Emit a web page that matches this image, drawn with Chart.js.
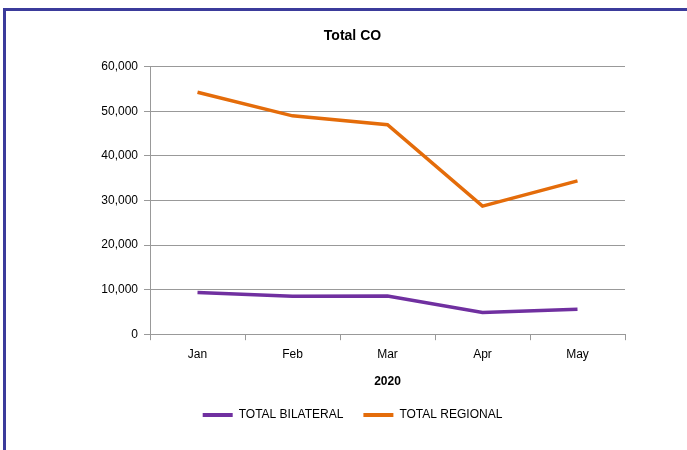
<!DOCTYPE html>
<html>
<head>
<meta charset="utf-8">
<script src="https://cdn.jsdelivr.net/npm/chart.js@4"></script>
<style>
  html, body { margin: 0; padding: 0; background: #fff; }
  #wrap { position: relative; width: 687px; height: 450px; overflow: hidden; }
  #frame { position: absolute; left: 3px; top: 8px; width: 720px; height: 500px;
           border-left: 3px solid #3b3b9b; border-top: 3px solid #3b3b9b; }
  canvas { position: absolute; left: 0; top: 0; }
</style>
</head>
<body>
<div id="wrap">
  <div id="frame"></div>
  <canvas id="c" width="687" height="450"></canvas>
</div>
<script>
const categories = ["Jan", "Feb", "Mar", "Apr", "May"];
const totalBilateral = [9350, 8500, 8550, 4850, 5600];
const totalRegional = [54300, 49000, 47000, 28750, 34400];
const yTicks = [0, 10000, 20000, 30000, 40000, 50000, 60000];

const FONT = "'Liberation Sans', Arial, sans-serif";

new Chart(document.getElementById('c'), {
  type: 'line',
  data: {
    labels: categories,
    datasets: [
      { label: 'TOTAL BILATERAL', data: totalBilateral, borderColor: '#7030a0',
        backgroundColor: '#7030a0', borderWidth: 3.5, pointRadius: 0, tension: 0 },
      { label: 'TOTAL REGIONAL', data: totalRegional, borderColor: '#e46c0a',
        backgroundColor: '#e46c0a', borderWidth: 3.5, pointRadius: 0, tension: 0 }
    ]
  },
  options: {
    responsive: false,
    animation: false,
    layout: { padding: { left: 80, right: 62, top: 18, bottom: 19 } },
    plugins: {
      title: { display: true, text: 'Total CO', color: '#000',
        font: { family: FONT, size: 14, weight: 'bold' }, padding: { top: 10, bottom: 22 } },
      legend: { position: 'bottom',
        labels: { color: '#000', font: { family: FONT, size: 12 }, boxWidth: 30, boxHeight: 4, padding: 20,
          generateLabels: (chart) => Chart.defaults.plugins.legend.labels.generateLabels(chart)
            .map(l => Object.assign(l, { lineWidth: 0 })) } },
      tooltip: { enabled: false }
    },
    scales: {
      x: {
        offset: true,
        grid: { offset: true, drawOnChartArea: false, color: '#999', tickLength: 6 },
        border: { color: '#999' },
        ticks: { color: '#000', font: { family: FONT, size: 12 }, padding: 7 },
        title: { display: true, text: '2020', color: '#000', font: { family: FONT, size: 12, weight: 'bold' }, padding: { top: 6, bottom: 0 } }
      },
      y: {
        min: 0, max: 60000,
        afterBuildTicks: (s) => { s.ticks = yTicks.map(v => ({ value: v })); },
        afterFit: (s) => { s.width = 70; },
        grid: { color: '#999', tickLength: 6 },
        border: { color: '#999' },
        ticks: { color: '#000', font: { family: FONT, size: 12 }, padding: 6,
          callback: (v) => v.toLocaleString('en-US') }
      }
    }
  }
});
</script>
</body>
</html>
